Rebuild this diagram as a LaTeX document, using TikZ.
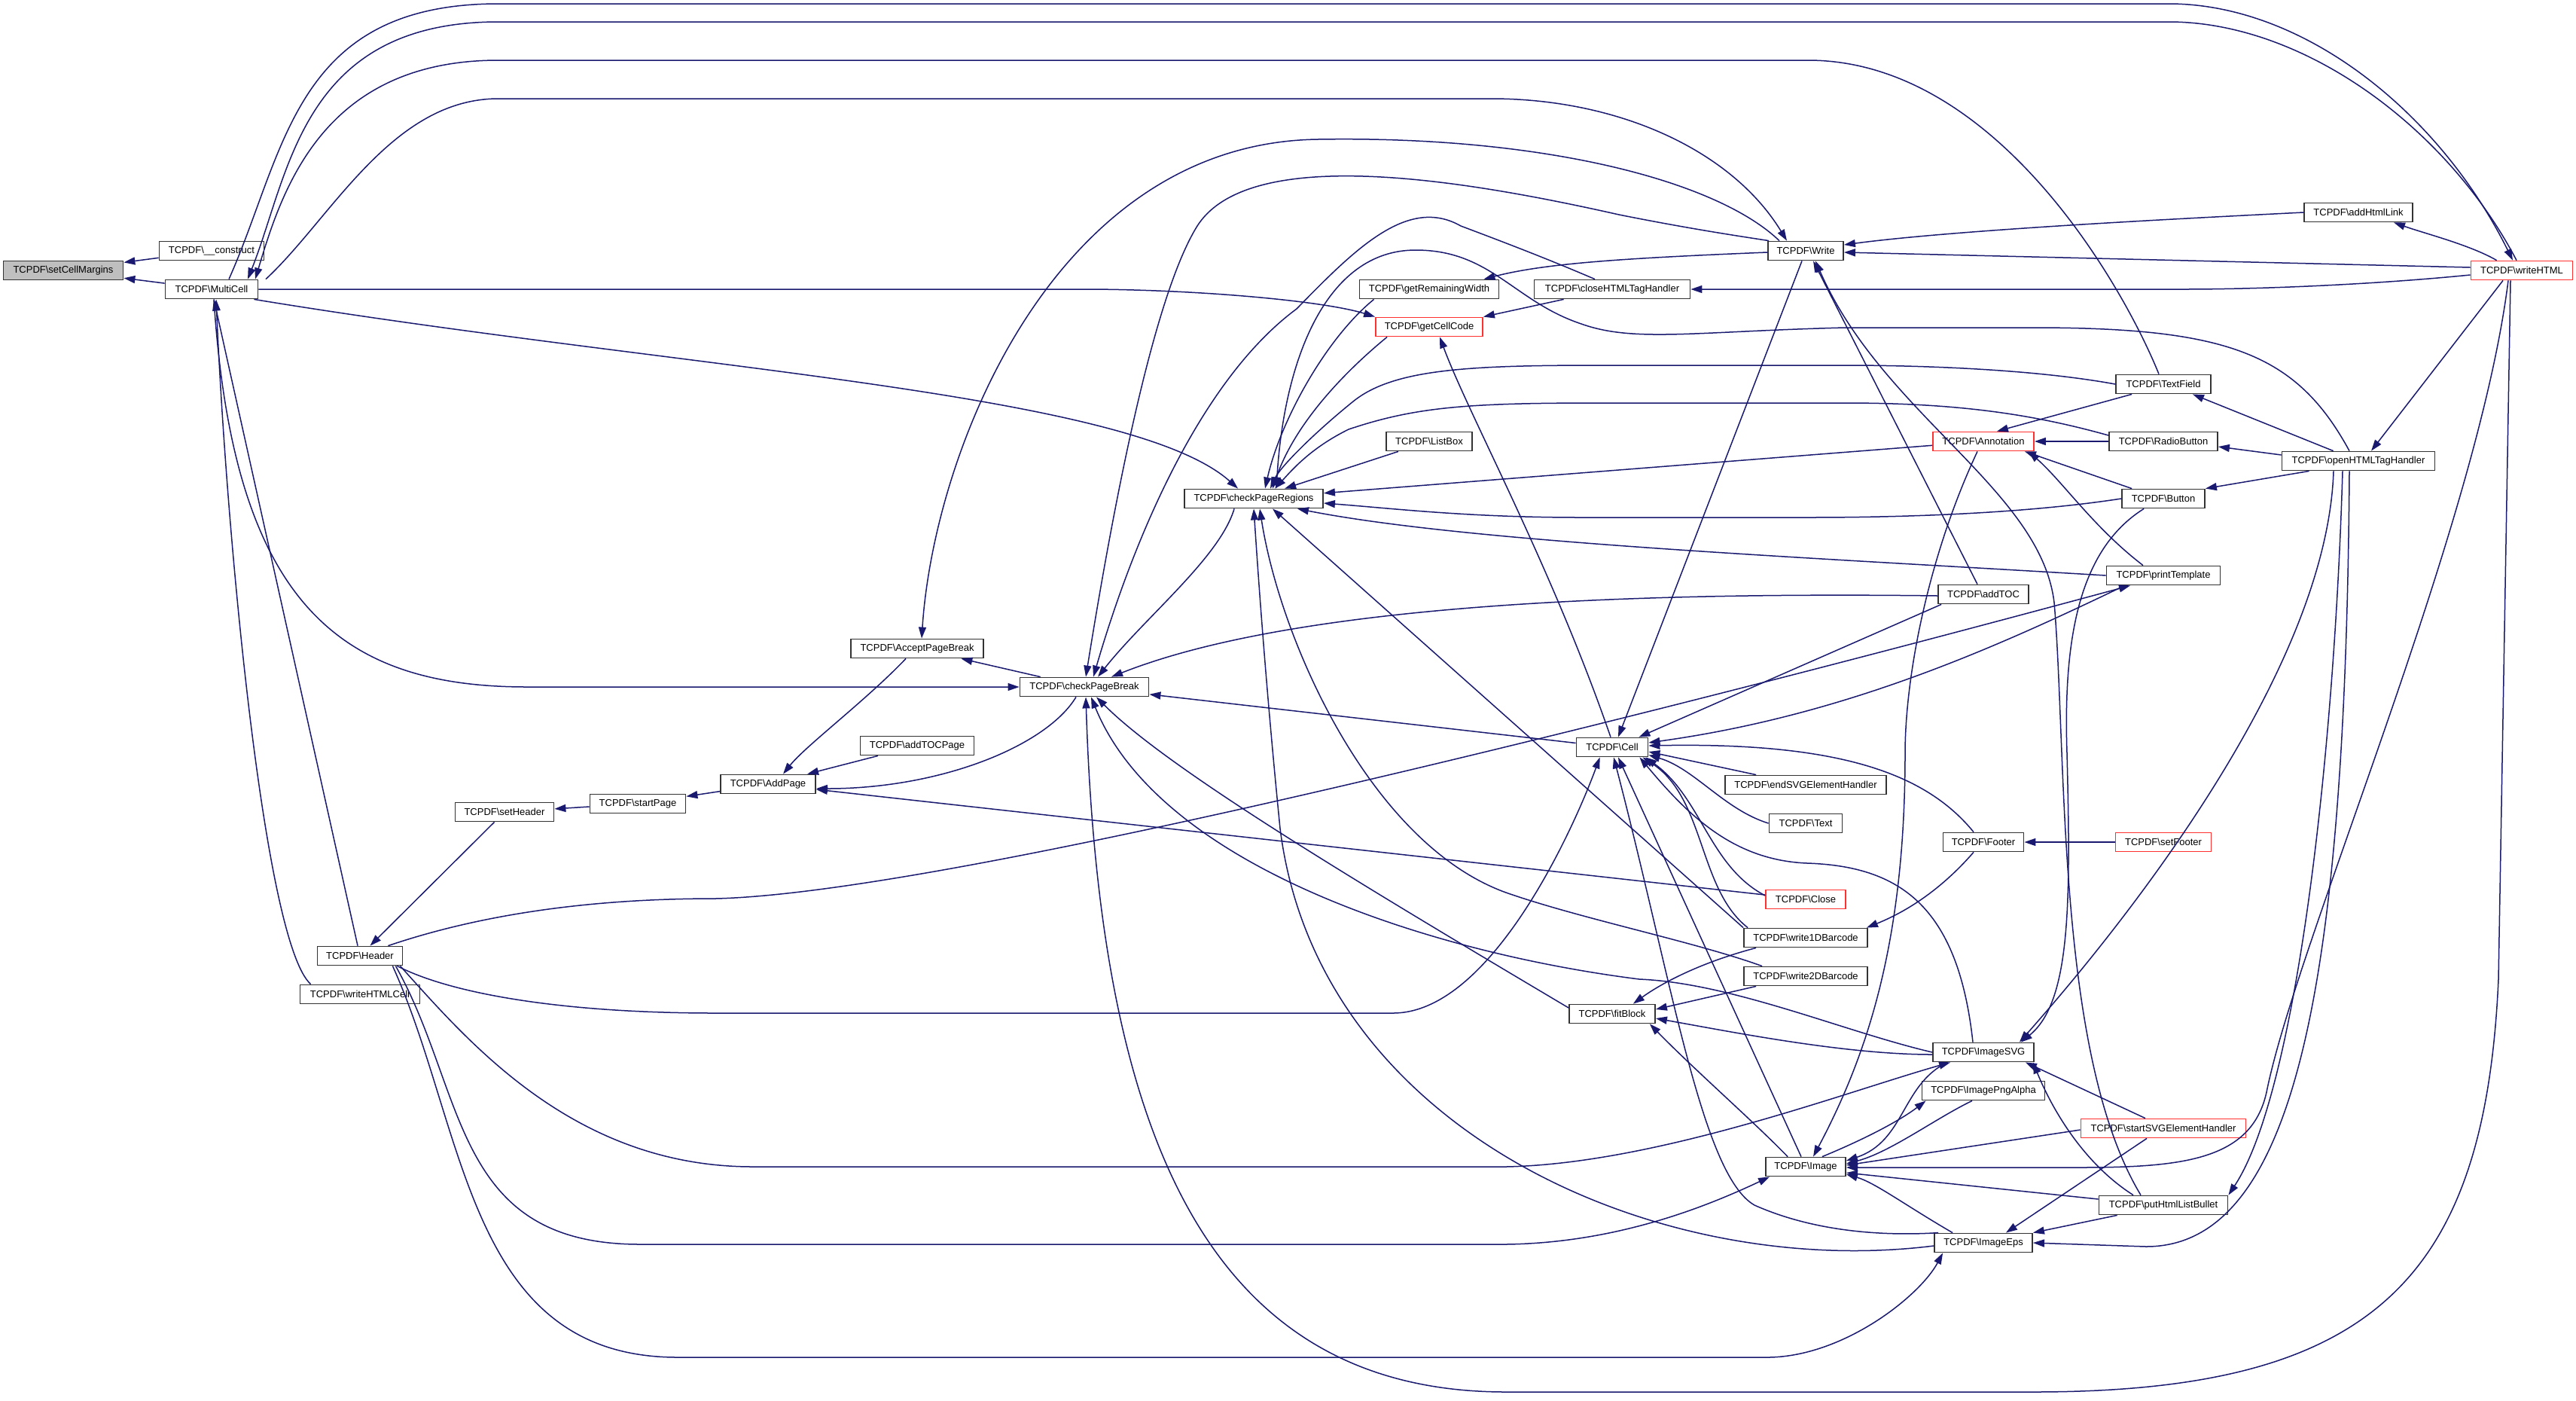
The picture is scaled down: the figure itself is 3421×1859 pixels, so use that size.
\documentclass[tikz,border=0pt]{standalone}
\usepackage{fontspec}
\setmainfont{Liberation Sans}
\usetikzlibrary{arrows.meta,calc}
\definecolor{navy}{HTML}{191970}
\definecolor{bred}{HTML}{FF3030}
\begin{document}
\begin{tikzpicture}[x=0.5pt,y=-0.5pt,
  nd/.style={draw=black!80, line width=0.9pt, fill=white, minimum height=12.5pt, inner sep=0pt, font=\fontsize{6.5pt}{8pt}\selectfont},
  rnd/.style={nd, draw=bred},
  ed/.style={navy, line width=0.75pt, -{Triangle[length=7.5pt,width=5pt]}},
  edr/.style={navy, line width=0.75pt, {Triangle[length=7.5pt,width=5pt]}-}]
\useasboundingbox (0,0) rectangle (3421,1859);
% nodes
\node[nd, fill=black!25, minimum width=79.5pt] (scm) at (84,359) {TCPDF\textbackslash setCellMargins};
\node[nd, minimum width=69.5pt] (cons) at (281,333) {TCPDF\textbackslash \_\_construct};
\node[nd, minimum width=61.5pt] (mc) at (281,384) {TCPDF\textbackslash MultiCell};
\node[rnd, minimum width=67.5pt] (wh) at (3349,359) {TCPDF\textbackslash writeHTML};
\node[nd, minimum width=72pt] (ahl) at (3132,282) {TCPDF\textbackslash addHtmlLink};
\node[nd, minimum width=50pt] (wr) at (2398,333) {TCPDF\textbackslash Write};
\node[nd, minimum width=92.5pt] (grw) at (1898,384) {TCPDF\textbackslash getRemainingWidth};
\node[nd, minimum width=103.5pt] (chtml) at (2141,384) {TCPDF\textbackslash closeHTMLTagHandler};
\node[rnd, minimum width=71pt] (gcc) at (1898,434) {TCPDF\textbackslash getCellCode};
\node[nd, minimum width=63pt] (tf) at (2873,510) {TCPDF\textbackslash TextField};
\node[rnd, minimum width=67pt] (ann) at (2634,586) {TCPDF\textbackslash Annotation};
\node[nd, minimum width=72pt] (rb) at (2873,586) {TCPDF\textbackslash RadioButton};
\node[nd, minimum width=57pt] (lb) at (1898,586) {TCPDF\textbackslash ListBox};
\node[nd, minimum width=101.5pt] (ohtml) at (3132,612) {TCPDF\textbackslash openHTMLTagHandler};
\node[nd, minimum width=92pt] (cpr) at (1665,662) {TCPDF\textbackslash checkPageRegions};
\node[nd, minimum width=55pt] (btn) at (2873,662) {TCPDF\textbackslash Button};
\node[nd, minimum width=75.5pt] (pt) at (2873,764) {TCPDF\textbackslash printTemplate};
\node[nd, minimum width=60pt] (atoc) at (2634,789) {TCPDF\textbackslash addTOC};
\node[nd, minimum width=88pt] (apb) at (1218,861) {TCPDF\textbackslash AcceptPageBreak};
\node[nd, minimum width=85.5pt] (cpb) at (1440,912) {TCPDF\textbackslash checkPageBreak};
\node[nd, minimum width=75.5pt] (atp) at (1218,990) {TCPDF\textbackslash addTOCPage};
\node[nd, minimum width=47.5pt] (cell) at (2141,992) {TCPDF\textbackslash Cell};
\node[nd, minimum width=63pt] (ap) at (1020,1041) {TCPDF\textbackslash AddPage};
\node[nd, minimum width=107pt] (esvg) at (2398,1042) {TCPDF\textbackslash endSVGElementHandler};
\node[nd, minimum width=65.5pt] (sh) at (670,1078) {TCPDF\textbackslash setHeader};
\node[nd, minimum width=63.5pt] (sp) at (847,1067) {TCPDF\textbackslash startPage};
\node[nd, minimum width=48.5pt] (txt) at (2398,1093) {TCPDF\textbackslash Text};
\node[nd, minimum width=53.5pt] (ftr) at (2634,1118) {TCPDF\textbackslash Footer};
\node[rnd, minimum width=63.5pt] (sftr) at (2873,1118) {TCPDF\textbackslash setFooter};
\node[rnd, minimum width=53pt] (cl) at (2398,1194) {TCPDF\textbackslash Close};
\node[nd, minimum width=56.5pt] (hdr) at (478,1269) {TCPDF\textbackslash Header};
\node[nd, minimum width=82pt] (w1d) at (2398,1245) {TCPDF\textbackslash write1DBarcode};
\node[nd, minimum width=82pt] (w2d) at (2398,1296) {TCPDF\textbackslash write2DBarcode};
\node[nd, minimum width=57pt] (fb) at (2141,1346) {TCPDF\textbackslash fitBlock};
\node[nd, minimum width=79.5pt] (whc) at (478,1320) {TCPDF\textbackslash writeHTMLCell};
\node[nd, minimum width=67pt] (isvg) at (2634,1397) {TCPDF\textbackslash ImageSVG};
\node[nd, minimum width=81.5pt] (ipng) at (2634,1448) {TCPDF\textbackslash ImagePngAlpha};
\node[rnd, minimum width=109.5pt] (ssvg) at (2873,1498) {TCPDF\textbackslash startSVGElementHandler};
\node[nd, minimum width=53pt] (img) at (2398,1549) {TCPDF\textbackslash Image};
\node[nd, minimum width=85.5pt] (phlb) at (2873,1600) {TCPDF\textbackslash putHtmlListBullet};
\node[nd, minimum width=65pt] (ieps) at (2634,1650) {TCPDF\textbackslash ImageEps};
% edges: setCellMargins / MultiCell
\draw[ed] (cons) -- (scm);
\draw[ed] (mc) -- (scm);
\draw[ed] ($(mc.north)+(23,0)$) .. controls (380,200) and (390,5) .. (662,5) -- (2880,5) .. controls (3060,5) and (3240,150) .. ($(wh.north)-(12,0)$);
\draw[edr] ($(mc.north)+(48,0)$) .. controls (385,230) and (400,29) .. (662,29) -- (2880,29) .. controls (3060,29) and (3250,170) .. ($(wh.north)-(7,0)$);
\draw[edr] ($(mc.north)+(58,0)$) .. controls (375,250) and (430,80) .. (662,80) -- (2401,80) .. controls (2650,80) and (2820,380) .. ($(tf.north)-(6,0)$);
\draw[ed] ($(mc.north)+(72,0)$) .. controls (440,290) and (520,131) .. (662,131) -- (1980,131) .. controls (2150,131) and (2300,200) .. ($(wr.north)-(25,0)$);
\draw[ed] (mc.east) -- (1450,384) .. controls (1600,385) and (1760,400) .. (gcc.north west);
\draw[ed] ($(mc.south east)+(-6,0)$) .. controls (900,490) and (1500,520) .. ($(cpr.north west)+(72,0)$);
\draw[ed] ($(mc.south)+(3,0)$) .. controls (310,800) and (450,912) .. (700,912) -- (cpb.west);
\draw[ed] (hdr) -- (mc);
\draw[ed] ($(whc.north west)+(15,0)$) .. controls (350,1250) and (300,700) .. ($(mc.south)+(6,0)$);
% header chain
\draw[ed] (sh) -- (hdr);
\draw[ed] (sp) -- (sh);
\draw[ed] (ap) -- (sp);
\draw[ed] ($(cpb.south)-(11,0)$) .. controls (1390,990) and (1250,1047) .. ($(ap.east)+(0,6)$);
\draw[ed] (atp) -- (ap);
\draw[ed] ($(apb.south)-(15,0)$) .. controls (1150,930) and (1070,990) .. ($(ap.north)+(20,0)$);
\draw[ed] (cpb) -- (apb);
\draw[ed] (cl) -- (ap);
\draw[ed] (cell) -- (cpb);
% arcs
\draw[edr] ($(apb.north)+(6,0)$) .. controls (1240,600) and (1400,190) .. (1750,185) .. controls (2050,180) and (2280,240) .. ($(wr.north)-(35,0)$);
\draw[edr] ($(cpb.north)+(2,0)$) .. controls (1490,600) and (1540,380) .. (1590,300) .. controls (1660,190) and (1950,240) .. (2150,285) .. controls (2250,305) and (2320,315) .. ($(wr.north west)+(2,0)$);
\draw[edr] ($(cpb.north)+(12,0)$) .. controls (1510,700) and (1600,500) .. (1722,410) .. controls (1800,330) and (1870,260) .. (1940,300) .. controls (2020,330) and (2070,350) .. ($(chtml.north)-(23,0)$);
% Write group
\draw[ed] ($(wh.west)+(0,-4)$) -- ($(wr.east)+(0,2)$);
\draw[ed] (ahl.west) .. controls (2900,290) and (2600,305) .. ($(wr.east)+(0,-8)$);
\draw[ed] ($(wh.north west)+(35,0)$) .. controls (3280,325) and (3220,310) .. ($(ahl.south)+(47,0)$);
\draw[ed] ($(wh.west)+(0,6)$) .. controls (3150,378) and (3000,384) .. (2900,384) -- (chtml.east);
\draw[ed] ($(wr.west)+(0,2)$) .. controls (2150,343) and (2050,350) .. ($(grw.north east)-(21,0)$);
\draw[ed] ($(chtml.south west)+(40,0)$) -- (gcc.north east);
\draw[ed] ($(wr.south)-(5,0)$) -- ($(cell.north)+(8,0)$);
\draw[ed] ($(atoc.north)-(8,0)$) -- ($(wr.south)+(10,0)$);
\draw[edr] ($(wr.south)+(13,0)$) .. controls (2500,550) and (2710,650) .. (2728,800) .. controls (2745,1000) and (2730,1400) .. ($(phlb.north)-(30,0)$);
\draw[ed] ($(cell.north)-(2,0)$) .. controls (2060,750) and (1950,550) .. ($(gcc.south)+(14,0)$);
% checkPageRegions incoming
\draw[ed] ($(gcc.south west)+(16,0)$) .. controls (1790,490) and (1720,560) .. ($(cpr.north)+(25,0)$);
\draw[ed] ($(grw.south west)+(20,0)$) .. controls (1760,450) and (1700,560) .. ($(cpr.north)+(15,0)$);
\draw[ed] ($(ohtml.north)-(12,0)$) .. controls (3050,470) and (2960,435) .. (2700,435) -- (2450,435) .. controls (2250,440) and (2170,455) .. (2100,430) .. controls (2010,400) and (1980,332) .. (1880,332) .. controls (1760,332) and (1705,480) .. ($(cpr.north)+(30,0)$);
\draw[ed] (tf.west) .. controls (2700,490) and (2550,485) .. (2450,485) -- (2124,485) .. controls (1950,485) and (1850,490) .. (1797,533) .. controls (1745,575) and (1700,620) .. ($(cpr.north)+(22,0)$);
\draw[ed] ($(rb.west)+(0,-8)$) .. controls (2700,550) and (2600,535) .. (2450,535) -- (2124,535) .. controls (1950,535) and (1880,540) .. (1791,570) .. controls (1740,595) and (1715,625) .. ($(cpr.north)+(28,0)$);
\draw[ed] (lb) -- (cpr);
\draw[ed] (ann) -- (cpr);
\draw[ed] (btn.west) .. controls (2700,680) and (2550,687) .. (2400,687) -- (2100,687) .. controls (1950,687) and (1850,675) .. ($(cpr.east)+(0,6)$);
\draw[ed] (pt.west) .. controls (2400,740) and (1950,720) .. ($(cpr.south east)+(-35,0)$);
% checkPageRegions / checkPageBreak lower
\draw[ed] ($(cpr.south west)+(67,0)$) .. controls (1620,740) and (1520,820) .. ($(cpb.north)+(18,0)$);
\draw[ed] ($(atoc.west)+(0,2)$) .. controls (2100,785) and (1700,810) .. ($(cpb.north)+(36,0)$);
\draw[ed] ($(atoc.south west)+(5,0)$) -- ($(cell.north east)-(13,0)$);
\draw[ed] (w1d.north west) -- ($(cpr.south)+(25,0)$);
\draw[ed] ($(w2d.north west)+(25,0)$) .. controls (2250,1250) and (2100,1220) .. (2000,1185) .. controls (1820,1120) and (1700,850) .. ($(cpr.south)+(8,0)$);
\draw[ed] ($(ieps.west)+(0,4)$) .. controls (2200,1700) and (1750,1500) .. (1700,1100) .. controls (1680,900) and (1670,750) .. (cpr.south);
% Cell incoming
\draw[ed] ($(pt.south west)+(25,0)$) .. controls (2650,860) and (2450,950) .. ($(cell.east)+(0,-6)$);
\draw[ed] ($(ftr.north)-(13,0)$) .. controls (2560,1030) and (2450,985) .. ($(cell.east)+(0,-2)$);
\draw[ed] ($(esvg.north west)+(42,0)$) -- ($(cell.east)+(0,6)$);
\draw[ed] (txt.west) .. controls (2290,1075) and (2250,1020) .. ($(cell.south east)+(0,-3)$);
\draw[ed] ($(cl.west)+(0,-5)$) .. controls (2270,1150) and (2260,1060) .. ($(cell.south east)+(-4,0)$);
\draw[ed] ($(w1d.north west)+(6,0)$) .. controls (2255,1180) and (2265,1060) .. ($(cell.south east)+(-8,0)$);
\draw[ed] ($(isvg.north)-(14,0)$) .. controls (2600,1200) and (2520,1150) .. (2400,1146) .. controls (2300,1142) and (2240,1080) .. ($(cell.south east)+(-12,0)$);
\draw[ed] ($(img.north)-(6,0)$) -- ($(cell.south)+(8,0)$);
\draw[ed] ($(ieps.north west)+(6,0)$) .. controls (2520,1640) and (2420,1640) .. (2330,1600) .. controls (2260,1560) and (2220,1300) .. ($(cell.south)+(2,0)$);
% Header outgoing
\draw[ed] ($(hdr.south east)+(-8,0)$) .. controls (600,1320) and (750,1345) .. (950,1345) -- (1850,1345) .. controls (1980,1345) and (2090,1100) .. ($(cell.south west)+(32,0)$);
\draw[ed] ($(hdr.north east)-(20,0)$) .. controls (650,1210) and (800,1193) .. (950,1193) .. controls (1300,1185) and (2450,880) .. ($(pt.south)-(44,0)$);
\draw[ed] ($(hdr.south east)+(-4,0)$) .. controls (620,1380) and (760,1549) .. (1000,1549) -- (2000,1549) .. controls (2200,1545) and (2450,1450) .. ($(isvg.south west)+(24,0)$);
\draw[ed] ($(hdr.south east)+(-10,0)$) .. controls (620,1450) and (600,1652) .. (850,1652) -- (2000,1652) .. controls (2150,1650) and (2270,1600) .. ($(img.south west)+(6,0)$);
\draw[ed] ($(hdr.south east)+(-14,0)$) .. controls (620,1500) and (620,1802) .. (900,1802) -- (2350,1802) .. controls (2450,1800) and (2550,1720) .. ($(ieps.south west)+(12,0)$);
% Footer, barcodes, fitBlock
\draw[ed] (sftr) -- (ftr);
\draw[ed] ($(ftr.south)-(13,0)$) .. controls (2570,1190) and (2520,1215) .. ($(w1d.north east)-(2,0)$);
\draw[ed] ($(w1d.south west)+(17,0)$) .. controls (2250,1280) and (2200,1310) .. ($(fb.north east)-(30,0)$);
\draw[ed] ($(w2d.south west)+(17,0)$) -- ($(fb.east)+(0,-6)$);
\draw[ed] ($(img.north west)+(30,0)$) .. controls (2330,1490) and (2250,1420) .. ($(fb.south east)-(8,0)$);
\draw[ed] ($(isvg.west)+(0,3)$) .. controls (2450,1400) and (2300,1370) .. ($(fb.east)+(0,6)$);
\draw[ed] ($(fb.west)+(0,-8)$) .. controls (1800,1170) and (1550,1020) .. ($(cpb.south)+(16,0)$);
\draw[ed] (isvg.west) .. controls (2450,1370) and (2300,1305) .. (2177,1300) .. controls (1900,1265) and (1540,1150) .. ($(cpb.south)+(9,0)$);
\draw[edr] ($(cpb.south)+(2,0)$) .. controls (1460,1500) and (1600,1848) .. (2000,1848) -- (2700,1848) .. controls (3150,1848) and (3300,1700) .. (3318,1300) -- ($(wh.south)-(15,0)$);
% Annotation group
\draw[ed] ($(ohtml.north west)+(69,0)$) -- ($(tf.south east)-(25,0)$);
\draw[ed] ($(ohtml.west)+(0,-8)$) -- ($(rb.east)+(0,7)$);
\draw[ed] ($(ohtml.south west)+(37,0)$) -- (btn.north east);
\draw[ed] ($(wh.south)-(25,0)$) -- ($(ohtml.north)+(17,0)$);
\draw[ed] ($(tf.south west)+(22,0)$) -- ($(ann.north east)-(50,0)$);
\draw[ed] (rb) -- (ann);
\draw[ed] ($(btn.north west)+(14,0)$) -- ($(ann.south east)-(13,0)$);
\draw[ed] ($(pt.north)-(27,0)$) .. controls (2780,700) and (2740,640) .. ($(ann.south east)-(8,0)$);
\draw[ed] ($(ann.south)-(8,0)$) .. controls (2560,740) and (2530,900) .. (2530,1000) .. controls (2530,1250) and (2480,1400) .. ($(img.north)+(10,0)$);
\draw[ed] ($(btn.south west)+(30,0)$) .. controls (2760,730) and (2740,850) .. (2745,1000) .. controls (2750,1200) and (2750,1330) .. ($(isvg.north east)-(18,0)$);
% Image cluster
\draw[ed] ($(img.north east)-(32,0)$) .. controls (2470,1515) and (2520,1490) .. ($(ipng.south west)+(6,0)$);
\draw[ed] ($(ipng.south)-(15,0)$) .. controls (2570,1485) and (2510,1530) .. ($(img.east)+(0,-4)$);
\draw[ed] ($(isvg.south west)+(20,0)$) .. controls (2525,1440) and (2530,1515) .. ($(img.east)+(0,-8)$);
\draw[ed] ($(ssvg.north)-(24,0)$) -- ($(isvg.south east)-(12,0)$);
\draw[ed] ($(ssvg.west)+(0,2)$) -- ($(img.east)+(0,-2)$);
\draw[ed] ($(ssvg.south)-(22,0)$) -- ($(ieps.north east)-(36,0)$);
\draw[ed] ($(phlb.west)+(0,-8)$) -- ($(img.east)+(0,8)$);
\draw[ed] ($(phlb.south west)+(25,0)$) -- (ieps.north east);
\draw[ed] ($(phlb.north)-(40,0)$) .. controls (2760,1540) and (2720,1460) .. ($(isvg.south east)-(2,0)$);
\draw[ed] ($(ieps.north west)+(25,0)$) .. controls (2530,1600) and (2490,1570) .. ($(img.east)+(0,10)$);
% writeHTML / openHTMLTagHandler down
\draw[ed] ($(wh.south)-(18,0)$) .. controls (3290,700) and (3050,1250) .. (3010,1450) .. controls (2990,1540) and (2900,1550) .. (2760,1550) -- ($(img.east)+(0,1)$);
\draw[ed] ($(ohtml.south)-(33,0)$) .. controls (3090,900) and (2800,1250) .. ($(isvg.north east)-(20,0)$);
\draw[ed] ($(ohtml.south)-(21,0)$) .. controls (3100,1000) and (3050,1450) .. (phlb.north east);
\draw[ed] ($(ohtml.south)-(12,0)$) .. controls (3115,1300) and (3050,1655) .. (2850,1655) -- (ieps.east);
\end{tikzpicture}
\end{document}
